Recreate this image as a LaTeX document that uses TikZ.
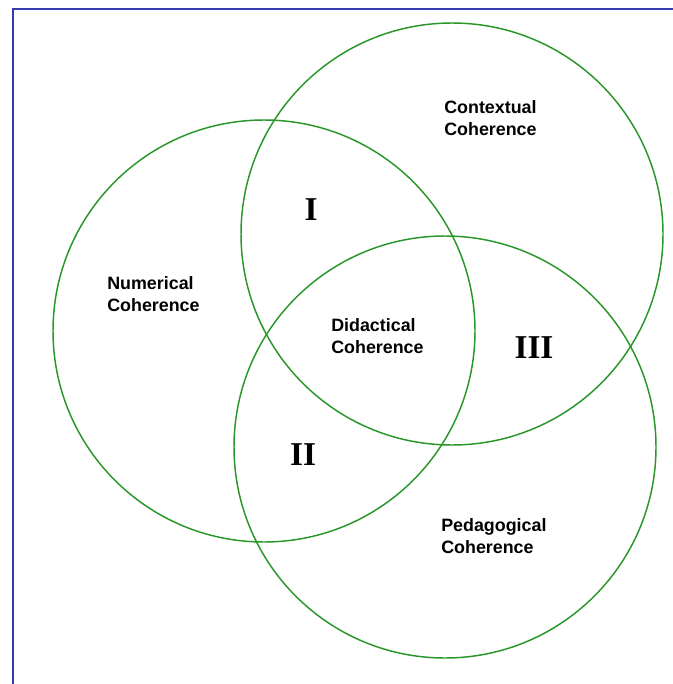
\documentclass[tikz,border=0pt]{standalone}
\usepackage{fontspec}
\setmainfont{Liberation Serif}
\newfontfamily\labelfont{Liberation Sans}
\definecolor{vgreen}{RGB}{40,150,40}
\definecolor{fblue}{RGB}{50,60,170}
\begin{document}
\begin{tikzpicture}[x=0.75pt,y=-0.75pt,
  ring/.style={draw=vgreen,line width=1.1pt},
  lbl/.style={font=\labelfont\bfseries\fontsize{13.4}{16}\selectfont,align=left,anchor=west,inner sep=0pt},
  num/.style={font=\bfseries\fontsize{25}{30}\selectfont,inner sep=0pt},
  frameline/.style={draw=fblue,line width=1.6pt}]
\useasboundingbox (0,0) rectangle (673,684);
\coordinate (tl) at (13,9);
\coordinate (tr) at (673,9);
\coordinate (bl) at (13,684);
\draw[frameline] (tr) -- (tl) -- (bl);
\node[ring,circle,minimum size=422*0.75pt,inner sep=0pt] (num) at (264,331) {};
\node[ring,circle,minimum size=422*0.75pt,inner sep=0pt] (con) at (452,234) {};
\node[ring,circle,minimum size=422*0.75pt,inner sep=0pt] (ped) at (445,447) {};
\node[lbl] (tcon) at (444,118) {Contextual\\Coherence};
\node[lbl] (tnum) at (107,294) {Numerical\\Coherence};
\node[lbl] (tdid) at (331,336) {Didactical\\Coherence};
\node[lbl] (tped) at (441,536) {Pedagogical\\Coherence};
\node[num] (r1) at (311,210) {I};
\node[num] (r2) at (303,455) {II};
\node[num] (r3) at (534,348) {III};
\end{tikzpicture}
\end{document}
